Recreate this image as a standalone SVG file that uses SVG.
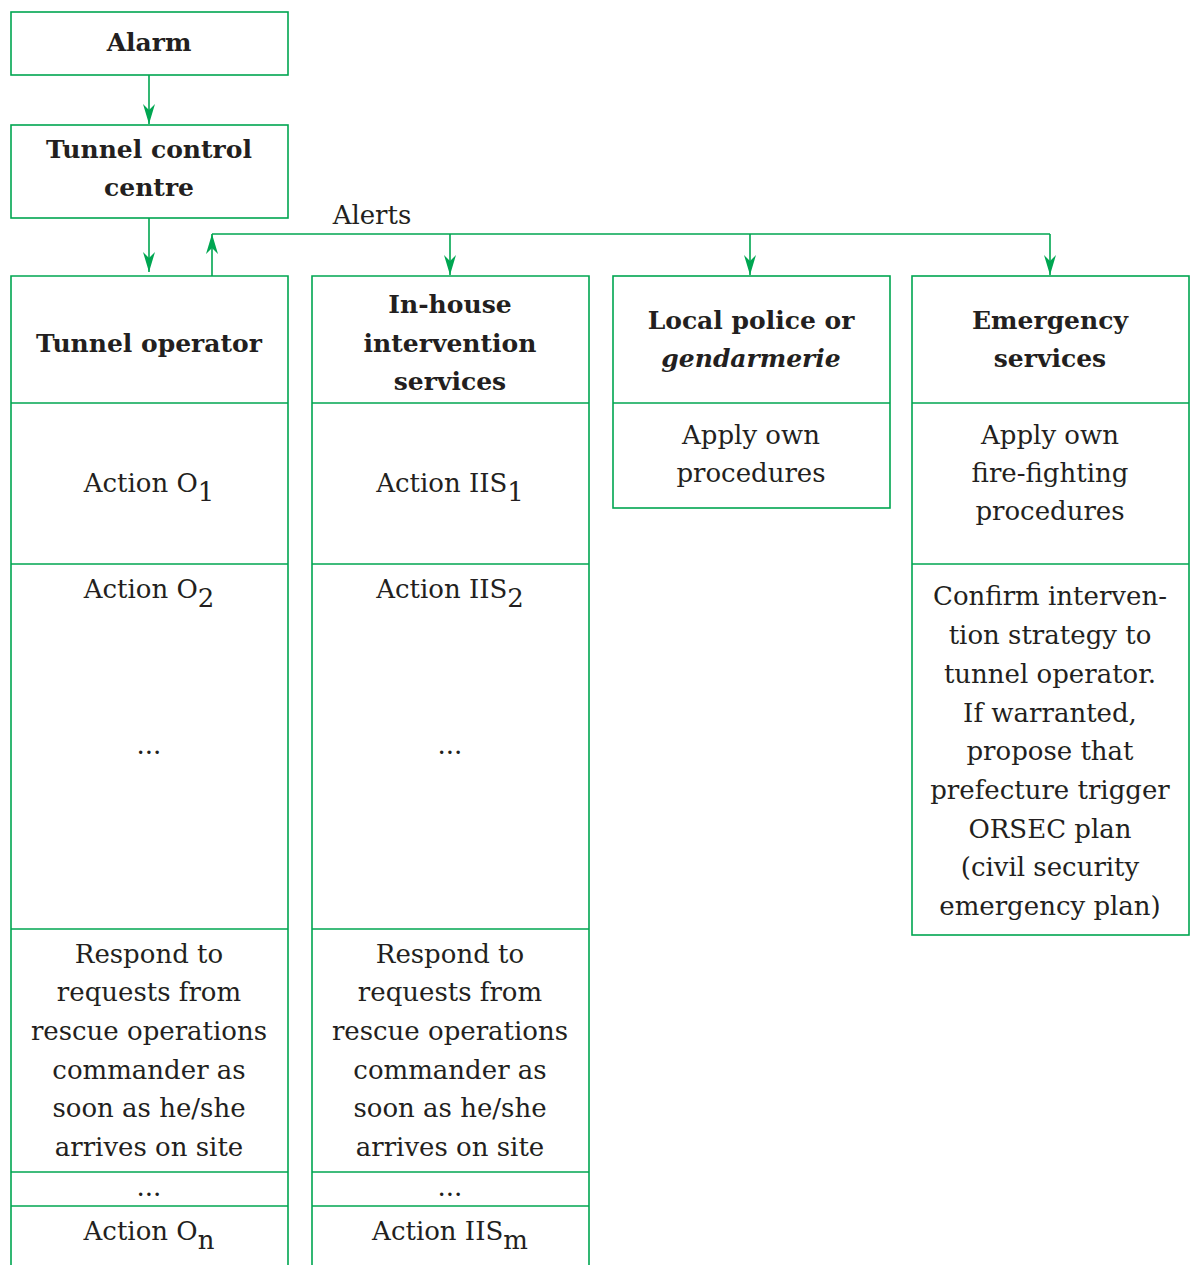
<svg xmlns="http://www.w3.org/2000/svg" width="1194" height="1265" viewBox="0 0 1194 1265">
  <style>
    .box { fill: #ffffff; stroke: #00a651; stroke-width: 1.6; }
    .sep { stroke: #00a651; stroke-width: 1.6; fill: none; }
    .wire { stroke: #00a651; stroke-width: 1.6; fill: none; }
    text { font-family: "DejaVu Serif", "Liberation Serif", serif; font-size: 26px; fill: #231f20; text-anchor: middle; }
    .hd { font-weight: bold; font-size: 25px; }
    .it { font-style: italic; }
  </style>
  <defs>
    <marker id="arrow" viewBox="0 0 20 12" refX="20" refY="6" markerWidth="20" markerHeight="12" orient="auto" markerUnits="userSpaceOnUse">
      <path d="M0,0 L20,6 L0,12 L6,6 Z" fill="#00a651"/>
    </marker>
  </defs>
  <rect width="1194" height="1265" fill="#ffffff"/>

  <g id="connectors">
    <line class="wire" x1="149" y1="75" x2="149" y2="124" marker-end="url(#arrow)"/>
    <line class="wire" x1="149" y1="218" x2="149" y2="272" marker-end="url(#arrow)"/>
    <line class="wire" x1="212" y1="276" x2="212" y2="234" marker-end="url(#arrow)"/>
    <line class="wire" x1="212" y1="234" x2="1050" y2="234"/>
    <line class="wire" x1="450" y1="234" x2="450" y2="275" marker-end="url(#arrow)"/>
    <line class="wire" x1="750" y1="234" x2="750" y2="275" marker-end="url(#arrow)"/>
    <line class="wire" x1="1050" y1="234" x2="1050" y2="275" marker-end="url(#arrow)"/>
    <text x="372" y="224">Alerts</text>
  </g>

  <g id="alarm">
    <rect class="box" x="11" y="12" width="277" height="63"/>
    <text class="hd" x="149" y="51">Alarm</text>
  </g>

  <g id="control-centre">
    <rect class="box" x="11" y="125" width="277" height="93"/>
    <text class="hd" x="149" y="158">Tunnel control</text>
    <text class="hd" x="149" y="196">centre</text>
  </g>

  <g id="tunnel-operator">
    <path class="sep" d="M11,1265 V276 H288 V1265"/>
    <line class="sep" x1="11" y1="403" x2="288" y2="403"/>
    <line class="sep" x1="11" y1="564" x2="288" y2="564"/>
    <line class="sep" x1="11" y1="929" x2="288" y2="929"/>
    <line class="sep" x1="11" y1="1172" x2="288" y2="1172"/>
    <line class="sep" x1="11" y1="1206" x2="288" y2="1206"/>
    <text class="hd" x="149" y="352">Tunnel operator</text>
    <text x="149" y="492">Action O<tspan dy="9">1</tspan></text>
    <text x="149" y="598">Action O<tspan dy="9">2</tspan></text>
    <text x="149" y="754">...</text>
    <text x="149" y="963">Respond to</text>
    <text x="149" y="1001">requests from</text>
    <text x="149" y="1040">rescue operations</text>
    <text x="149" y="1079">commander as</text>
    <text x="149" y="1117">soon as he/she</text>
    <text x="149" y="1156">arrives on site</text>
    <text x="149" y="1196">...</text>
    <text x="149" y="1240">Action O<tspan dy="9">n</tspan></text>
  </g>

  <g id="in-house-services">
    <path class="sep" d="M312,1265 V276 H589 V1265"/>
    <line class="sep" x1="312" y1="403" x2="589" y2="403"/>
    <line class="sep" x1="312" y1="564" x2="589" y2="564"/>
    <line class="sep" x1="312" y1="929" x2="589" y2="929"/>
    <line class="sep" x1="312" y1="1172" x2="589" y2="1172"/>
    <line class="sep" x1="312" y1="1206" x2="589" y2="1206"/>
    <text class="hd" x="450" y="313">In-house</text>
    <text class="hd" x="450" y="352">intervention</text>
    <text class="hd" x="450" y="390">services</text>
    <text x="450" y="492">Action IIS<tspan dy="9">1</tspan></text>
    <text x="450" y="598">Action IIS<tspan dy="9">2</tspan></text>
    <text x="450" y="754">...</text>
    <text x="450" y="963">Respond to</text>
    <text x="450" y="1001">requests from</text>
    <text x="450" y="1040">rescue operations</text>
    <text x="450" y="1079">commander as</text>
    <text x="450" y="1117">soon as he/she</text>
    <text x="450" y="1156">arrives on site</text>
    <text x="450" y="1196">...</text>
    <text x="450" y="1240">Action IIS<tspan dy="9">m</tspan></text>
  </g>

  <g id="local-police">
    <rect class="box" x="613" y="276" width="277" height="232"/>
    <line class="sep" x1="613" y1="403" x2="890" y2="403"/>
    <text class="hd" x="751" y="329">Local police or</text>
    <text class="hd it" x="751" y="367">gendarmerie</text>
    <text x="751" y="444">Apply own</text>
    <text x="751" y="482">procedures</text>
  </g>

  <g id="emergency-services">
    <rect class="box" x="912" y="276" width="277" height="659"/>
    <line class="sep" x1="912" y1="403" x2="1189" y2="403"/>
    <line class="sep" x1="912" y1="564" x2="1189" y2="564"/>
    <text class="hd" x="1050" y="329">Emergency</text>
    <text class="hd" x="1050" y="367">services</text>
    <text x="1050" y="444">Apply own</text>
    <text x="1050" y="482">fire-fighting</text>
    <text x="1050" y="520">procedures</text>
    <text x="1050" y="605">Confirm interven-</text>
    <text x="1050" y="644">tion strategy to</text>
    <text x="1050" y="683">tunnel operator.</text>
    <text x="1050" y="722">If warranted,</text>
    <text x="1050" y="760">propose that</text>
    <text x="1050" y="799">prefecture trigger</text>
    <text x="1050" y="838">ORSEC plan</text>
    <text x="1050" y="876">(civil security</text>
    <text x="1050" y="915">emergency plan)</text>
  </g>
</svg>
